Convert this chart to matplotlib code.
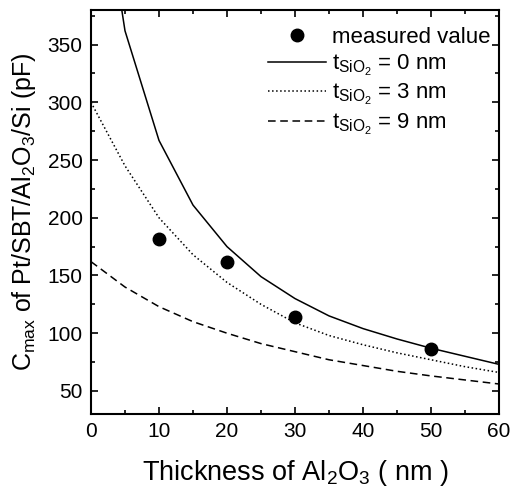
import matplotlib
matplotlib.use("Agg")
import matplotlib.pyplot as plt
from matplotlib.ticker import MultipleLocator

plt.rcParams['font.family'] = ['Liberation Sans', 'DejaVu Sans']
plt.rcParams['mathtext.default'] = 'regular'

# measured values
meas_x = [10, 20, 30, 50]
meas_y = [182, 162, 114, 86]

# calculated curves
t_x = [0, 5, 10, 15, 20, 25, 30, 35, 40, 45, 50, 55, 60]
c_sio2_0 = [553, 362, 267, 211, 175, 149, 130, 115, 104, 95, 87, 80, 73]
c_sio2_3 = [300, 245, 200, 168, 144, 125, 109, 98, 90, 83, 77, 71, 66]
c_sio2_9 = [162, 140, 123, 110, 100, 91, 84, 77, 72, 67, 63, 59.5, 56]

fig = plt.figure(figsize=(5.12, 4.92), dpi=100)
ax = fig.add_axes([0.1777, 0.1585, 0.797, 0.8212])

ax.plot(meas_x, meas_y, 'o', color='black', ms=9, ls='none', label='measured value')
ax.plot(t_x, c_sio2_0, '-', color='black', lw=1.1, label=r'$t_{SiO_2}$ = 0 nm')
ax.plot(t_x, c_sio2_3, ':', color='black', lw=1.1, label=r'$t_{SiO_2}$ = 3 nm')
ax.plot(t_x, c_sio2_9, '--', color='black', lw=1.1, dashes=(5, 3), label=r'$t_{SiO_2}$ = 9 nm')

ax.set_xlim(0, 60)
ax.set_ylim(30, 380)
ax.xaxis.set_major_locator(MultipleLocator(10))
ax.xaxis.set_minor_locator(MultipleLocator(5))
ax.yaxis.set_minor_locator(MultipleLocator(25))
ax.set_yticks([50, 100, 150, 200, 250, 300, 350])
ax.tick_params(which='both', direction='in', top=True, right=True, labelsize=15, width=1.2)
ax.tick_params(which='major', length=5, pad=6)
ax.tick_params(which='minor', length=3)
for s in ax.spines.values():
    s.set_linewidth(1.5)

ax.set_xlabel(r'Thickness of Al$_2$O$_3$ ( nm )', fontsize=19.5, labelpad=12)
ax.set_ylabel(r'C$_{max}$ of Pt/SBT/Al$_2$O$_3$/Si (pF)', fontsize=18, labelpad=7)

ax.legend(loc='upper right', frameon=False, fontsize=16, handlelength=2.6,
          handletextpad=0.25, labelspacing=0.2, borderpad=0, borderaxespad=0.4,
          bbox_to_anchor=(1.0, 0.98))

fig.savefig('out.png', dpi=100)
